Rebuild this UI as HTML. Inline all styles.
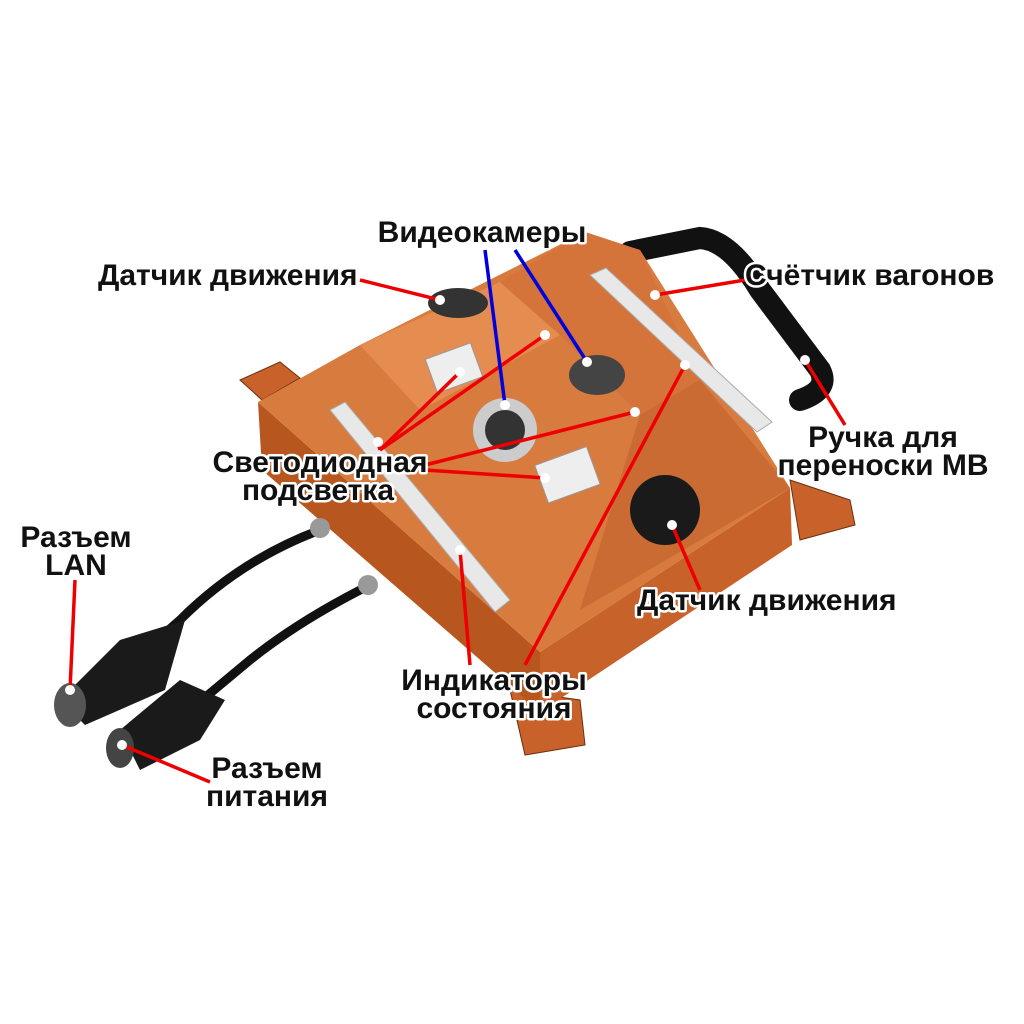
<!DOCTYPE html>
<html><head><meta charset="utf-8"><style>
html,body{margin:0;padding:0;background:#fff;}
svg{display:block}
.t{font-family:"Liberation Sans","DejaVu Sans",sans-serif;font-weight:bold;font-size:30px;fill:#111;stroke:#fff;stroke-width:5px;paint-order:stroke;stroke-linejoin:round}
</style></head><body>
<svg width="1024" height="1024" viewBox="0 0 1024 1024" xmlns="http://www.w3.org/2000/svg">
<rect width="1024" height="1024" fill="#fff"/>
<polygon points="240,380 280,362 300,378 262,400" fill="#c8612a" stroke="#6a3010"/>
<polygon points="510,690 580,700 585,745 525,755" fill="#c8612a" stroke="#6a3010"/>
<polygon points="790,480 850,500 855,525 800,540" fill="#c8612a" stroke="#6a3010"/>
<path d="M630,252 L700,238 Q730,240 760,290 L820,370 Q830,390 800,400" fill="none" stroke="#111" stroke-width="22" stroke-linecap="round"/>
<polygon points="258,402 540,652 540,712 262,470" fill="#b8561f"/>
<polygon points="540,652 790,488 792,545 540,712" fill="#c6622a"/>
<polygon points="258,402 360,345 585,232 640,250 790,488 540,652" fill="#d87b3e"/>
<polygon points="360,345 500,282 560,335 440,400 420,410" fill="#e58c50"/>
<polygon points="500,282 585,232 640,250 700,380 640,415 560,335" fill="#d4733a"/>
<polygon points="640,415 700,380 790,488 580,610" fill="#c96b32"/>
<polygon points="330,410 345,402 510,600 495,612" fill="#e8e8e8" stroke="#aaa"/>
<polygon points="590,275 606,268 772,422 757,432" fill="#e8e8e8" stroke="#aaa"/>
<rect x="430" y="350" width="48" height="36" fill="#eee" stroke="#999" transform="rotate(-20 454 368)"/>
<rect x="540" y="455" width="55" height="40" fill="#eee" stroke="#999" transform="rotate(-20 567 475)"/>
<circle cx="505" cy="430" r="32" fill="#ccc"/><circle cx="505" cy="430" r="20" fill="#333"/>
<ellipse cx="597" cy="375" rx="28" ry="20" fill="#444"/>
<ellipse cx="458" cy="303" rx="30" ry="15" fill="#333"/>
<circle cx="665" cy="510" r="35" fill="#1a1a1a"/>
<path d="M320,530 Q240,560 180,620 L100,690" fill="none" stroke="#111" stroke-width="9"/>
<path d="M370,585 Q300,620 250,660 L160,735" fill="none" stroke="#111" stroke-width="9"/>
<polygon points="60,700 120,640 185,620 165,690 85,725" fill="#1a1a1a"/>
<ellipse cx="70" cy="705" rx="16" ry="22" fill="#555"/>
<polygon points="120,730 180,680 225,700 200,740 140,770" fill="#1a1a1a"/>
<ellipse cx="120" cy="748" rx="14" ry="20" fill="#444"/>
<circle cx="320" cy="528" r="10" fill="#999"/><circle cx="368" cy="585" r="10" fill="#999"/>
<g stroke="#e00" stroke-width="3.5" fill="none">
<line x1="360" y1="280" x2="440" y2="300"/>
<line x1="745" y1="280" x2="655" y2="295"/>
<line x1="845" y1="425" x2="805" y2="360"/>
<line x1="380" y1="450" x2="460" y2="372"/>
<line x1="380" y1="450" x2="545" y2="335"/>
<line x1="425" y1="465" x2="635" y2="412"/>
<line x1="425" y1="470" x2="545" y2="478"/>
<line x1="380" y1="450" x2="378" y2="442"/>
<line x1="470" y1="665" x2="460" y2="550"/>
<line x1="525" y1="665" x2="685" y2="365"/>
<line x1="700" y1="590" x2="672" y2="525"/>
<line x1="75" y1="580" x2="70" y2="690"/>
<line x1="210" y1="782" x2="122" y2="745"/>
</g>
<g stroke="#00d" stroke-width="3.5">
<line x1="485" y1="250" x2="505" y2="405"/>
<line x1="515" y1="250" x2="587" y2="362"/>
</g>
<g fill="#fff">
<circle cx="440" cy="300" r="5"/><circle cx="655" cy="295" r="5"/><circle cx="805" cy="360" r="5"/>
<circle cx="460" cy="372" r="5"/><circle cx="545" cy="335" r="5"/><circle cx="635" cy="412" r="5"/>
<circle cx="545" cy="478" r="5"/><circle cx="460" cy="550" r="5"/><circle cx="685" cy="365" r="5"/>
<circle cx="672" cy="525" r="5"/><circle cx="70" cy="690" r="5"/><circle cx="122" cy="745" r="5"/>
<circle cx="505" cy="405" r="5"/><circle cx="587" cy="362" r="5"/><circle cx="378" cy="442" r="5"/>
</g>
<text class="t" x="482" y="242" text-anchor="middle">Видеокамеры</text>
<text class="t" x="98" y="285">Датчик движения</text>
<text class="t" x="745" y="285">Счётчик вагонов</text>
<text class="t" x="320" y="472" text-anchor="middle">Светодиодная</text>
<text class="t" x="318" y="500" text-anchor="middle">подсветка</text>
<text class="t" x="883" y="447" text-anchor="middle">Ручка для</text>
<text class="t" x="883" y="475" text-anchor="middle">переноски МВ</text>
<text class="t" x="76" y="547" text-anchor="middle">Разъем</text>
<text class="t" x="76" y="575" text-anchor="middle">LAN</text>
<text class="t" x="637" y="610">Датчик движения</text>
<text class="t" x="494" y="690" text-anchor="middle">Индикаторы</text>
<text class="t" x="494" y="718" text-anchor="middle">состояния</text>
<text class="t" x="267" y="778" text-anchor="middle">Разъем</text>
<text class="t" x="267" y="806" text-anchor="middle">питания</text>
</svg>
</body></html>
